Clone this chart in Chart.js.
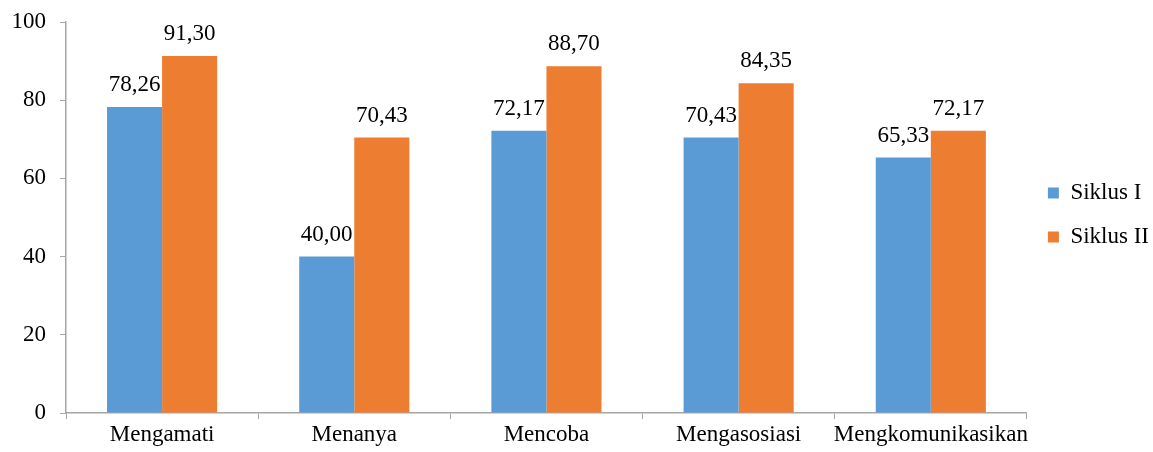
<!DOCTYPE html>
<html>
<head>
<meta charset="utf-8">
<script src="https://cdn.jsdelivr.net/npm/chart.js@4.4.1/dist/chart.umd.min.js"></script>
<style>
  html, body { margin: 0; padding: 0; background: #fff; }
  #wrap { width: 1153px; height: 452px; }
</style>
</head>
<body>
<div id="wrap"><canvas id="chart" width="1153" height="452"></canvas></div>
<script>
const categories = ['Mengamati', 'Menanya', 'Mencoba', 'Mengasosiasi', 'Mengkomunikasikan'];
const siklus1 = [78.26, 40.00, 72.17, 70.43, 65.33];
const siklus2 = [91.30, 70.43, 88.70, 84.35, 72.17];
const yTicks = [0, 20, 40, 60, 80, 100];

const FONT = '"Liberation Serif", "DejaVu Serif", serif';
const axisGrey = '#a6a6a6';

// value labels above each bar, with comma decimals
const valueLabels = {
  id: 'valueLabels',
  afterDatasetsDraw(chart) {
    const ctx = chart.ctx;
    ctx.save();
    ctx.font = '23px ' + FONT;
    ctx.fillStyle = '#000';
    ctx.textAlign = 'center';
    ctx.textBaseline = 'alphabetic';
    chart.data.datasets.forEach((ds, i) => {
      chart.getDatasetMeta(i).data.forEach((bar, j) => {
        const txt = ds.data[j].toFixed(2).replace('.', ',');
        ctx.fillText(txt, bar.x, bar.y - 16);
      });
    });
    ctx.restore();
  }
};

// legend sits a bit above the vertical centre in the original
const legendShift = {
  id: 'legendShift',
  afterLayout(chart) {
    const lg = chart.legend;
    if (!lg) return;
    lg.top -= 22;
    lg.bottom -= 22;
  }
};

Chart.defaults.font.family = FONT;
Chart.defaults.color = '#000';

new Chart(document.getElementById('chart').getContext('2d'), {
  type: 'bar',
  data: {
    labels: categories,
    datasets: [
      { label: 'Siklus I', data: siklus1, backgroundColor: '#5b9bd5' },
      { label: 'Siklus II', data: siklus2, backgroundColor: '#ed7d31' }
    ]
  },
  options: {
    responsive: false,
    animation: false,
    layout: { padding: { top: 22, left: 0, right: -6, bottom: 0 } },
    datasets: { bar: { categoryPercentage: 0.573, barPercentage: 1.0 } },
    scales: {
      x: {
        grid: { display: true, drawOnChartArea: false, color: axisGrey, tickLength: 6, offset: true },
        border: { display: true, color: axisGrey, width: 1.5 },
        ticks: { font: { size: 23 }, padding: 2, maxRotation: 0, autoSkip: false },
        afterFit(scale) { scale.height = 39; }
      },
      y: {
        min: 0,
        max: 100,
        afterBuildTicks(scale) { scale.ticks = yTicks.map(v => ({ value: v })); },
        grid: { display: true, drawOnChartArea: false, color: axisGrey, tickLength: 6 },
        border: { display: true, color: axisGrey, width: 1.5 },
        ticks: { font: { size: 23 }, padding: 14 },
        afterFit(scale) {
          scale.width = 66;
          scale.paddingTop = 0;
          scale.paddingBottom = 0;
        }
      }
    },
    plugins: {
      legend: {
        position: 'right',
        labels: { boxWidth: 11, boxHeight: 11, padding: 21, font: { size: 23 } }
      },
      tooltip: { enabled: false }
    }
  },
  plugins: [valueLabels, legendShift]
});
</script>
</body>
</html>
